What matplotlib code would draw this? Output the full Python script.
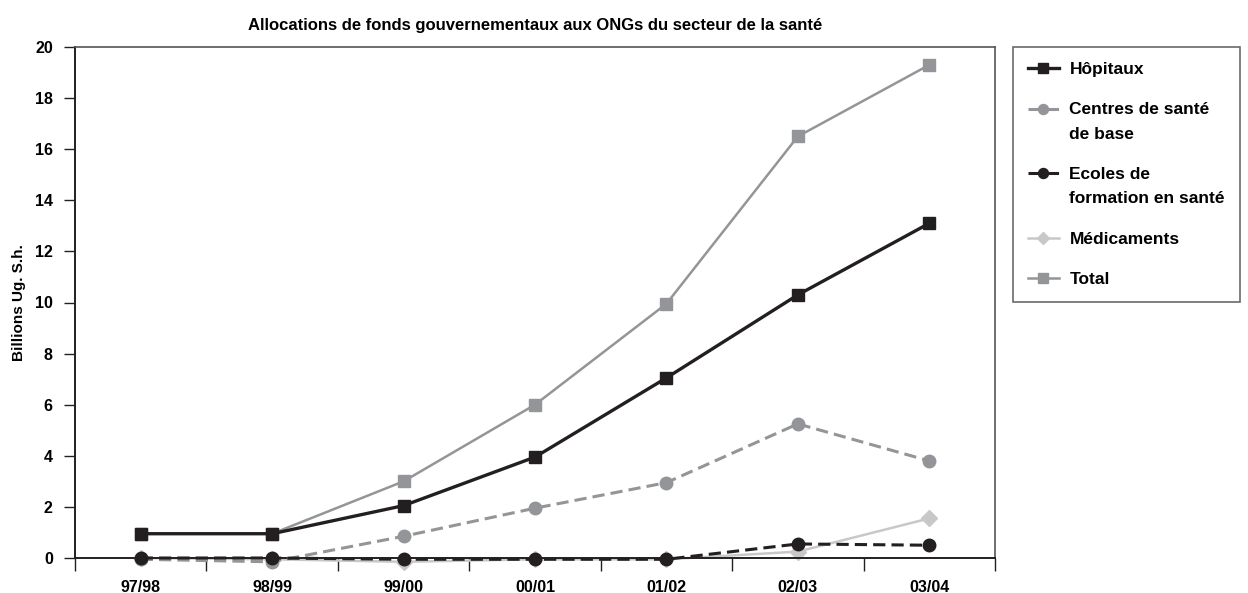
import matplotlib
matplotlib.use("Agg")
import matplotlib.pyplot as plt
from matplotlib.legend_handler import HandlerLine2D
import numpy as np

plt.rcParams['font.family'] = ['Liberation Sans', 'DejaVu Sans']
plt.rcParams['font.weight'] = 'bold'

# data
years = ['97/98', '98/99', '99/00', '00/01', '01/02', '02/03', '03/04']
hopitaux = [0.95, 0.95, 2.05, 3.95, 7.05, 10.3, 13.1]
centres = [-0.05, -0.15, 0.85, 1.95, 2.95, 5.25, 3.8]
ecoles = [0.0, 0.0, -0.05, -0.05, -0.05, 0.55, 0.5]
medicaments = [0.0, -0.05, -0.15, -0.05, -0.05, 0.25, 1.55]
total = [0.95, 0.95, 3.0, 6.0, 9.95, 16.5, 19.3]

dark = '#231f20'
mid = '#939598'
light = '#c8c8c8'


# legend handle moved up to sit next to the first line of a two-line label
class FirstLineHandler(HandlerLine2D):
    def create_artists(self, legend, orig_handle, xdescent, ydescent,
                       width, height, fontsize, trans):
        artists = super().create_artists(legend, orig_handle, xdescent, ydescent,
                                         width, height, fontsize, trans)
        for a in artists:
            a.set_ydata(np.asarray(a.get_ydata()) + 9.5)
        return artists


fig = plt.figure(figsize=(12.48, 5.93), dpi=100)
ax = fig.add_axes([75 / 1248, 1 - 558 / 593, 920 / 1248, 511 / 593])

x = np.arange(len(years)) + 0.5

l_med, = ax.plot(x, medicaments, color=light, lw=1.8, marker='D', ms=8,
                 label='Médicaments', clip_on=False, zorder=2)
l_cen, = ax.plot(x, centres, color=mid, lw=2.2, ls=(0, (4, 2)), marker='o', ms=9,
                 label='Centres de santé\nde base', clip_on=False, zorder=3)
l_eco, = ax.plot(x, ecoles, color=dark, lw=2.2, ls=(0, (4, 2)), marker='o', ms=9,
                 label='Ecoles de\nformation en santé', clip_on=False, zorder=4)
l_tot, = ax.plot(x, total, color=mid, lw=1.8, marker='s', ms=8.5,
                 label='Total', clip_on=False, zorder=5)
l_hop, = ax.plot(x, hopitaux, color=dark, lw=2.4, marker='s', ms=8.5,
                 label='Hôpitaux', clip_on=False, zorder=6)

ax.set_xlim(0, len(years))
ax.set_ylim(0, 20)
ax.set_yticks(range(0, 21, 2))
ax.set_xticks(np.arange(len(years) + 1))
ax.set_xticklabels([])
ax.set_xticks(x, minor=True)
ax.set_xticklabels(years, minor=True)
ax.tick_params(axis='x', which='major', direction='out', length=9, width=1, color=dark)
ax.tick_params(axis='x', which='minor', length=0, pad=16, labelsize=11.5)
ax.tick_params(axis='y', direction='out', length=8, width=1, color=dark, labelsize=11.5, pad=8)

for s in ['left', 'bottom']:
    ax.spines[s].set_color(dark)
    ax.spines[s].set_linewidth(1.4)
for s in ['top', 'right']:
    ax.spines[s].set_color('#555555')
    ax.spines[s].set_linewidth(1.2)

ax.set_ylabel('Billions Ug. S.h.', fontsize=11, fontweight='bold', labelpad=6)
ax.set_title('Allocations de fonds gouvernementaux aux ONGs du secteur de la santé',
             fontsize=12, fontweight='bold', pad=12)

first_line = FirstLineHandler()
handles = [l_hop, l_cen, l_eco, l_med, l_tot]
leg = fig.legend(handles=handles, loc='upper left',
                 bbox_to_anchor=(1013 / 1248, 1 - 47 / 593),
                 handler_map={l_cen: first_line, l_eco: first_line},
                 fontsize=12.5, frameon=True, fancybox=False, edgecolor='#444444',
                 handlelength=1.8, handletextpad=0.6, labelspacing=1.45,
                 borderpad=0.85, borderaxespad=0, markerscale=0.8)
leg.get_frame().set_linewidth(1.2)
for t in leg.get_texts():
    t.set_linespacing(1.8)

fig.savefig('out.png', dpi=100)
